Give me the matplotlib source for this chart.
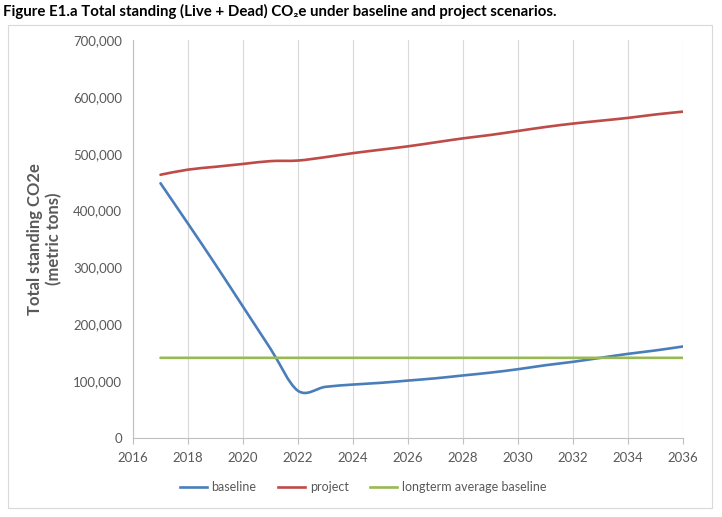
import numpy as np
import matplotlib
matplotlib.use("Agg")
import matplotlib.pyplot as plt
from matplotlib.path import Path
from matplotlib.patches import PathPatch, Rectangle
from matplotlib.lines import Line2D

plt.rcParams['font.family'] = ['Lato', 'DejaVu Sans']

years = list(range(2017, 2037))
baseline = [448000, 377000, 305000, 231000, 157000, 83000, 90000, 94000, 97000, 101000,
            105000, 110000, 115000, 121000, 128000, 134000, 141000, 148000, 154000, 161000]
project = [463000, 472000, 477000, 482000, 487000, 488000, 494000, 501000, 507000, 513000,
           520000, 527000, 533000, 540000, 547000, 553000, 558000, 563000, 569000, 574000]
longterm = [141000] * len(years)
series_names = ["baseline", "project", "longterm average baseline"]
colors = ["#4A7EBB", "#BE4B48", "#98B954"]
x_ticks = list(range(2016, 2037, 2))
y_ticks = list(range(0, 700001, 100000))


def smooth_path(xs, ys):
    xs = np.asarray(xs, float); ys = np.asarray(ys, float)
    verts = [(xs[0], ys[0])]
    codes = [Path.MOVETO]
    n = len(xs)
    t = 1.0 / 6.0
    for i in range(n - 1):
        p0 = (xs[max(i - 1, 0)], ys[max(i - 1, 0)])
        p1 = (xs[i], ys[i])
        p2 = (xs[i + 1], ys[i + 1])
        p3 = (xs[min(i + 2, n - 1)], ys[min(i + 2, n - 1)])
        c1 = (p1[0] + (p2[0] - p0[0]) * t, p1[1] + (p2[1] - p0[1]) * t)
        c2 = (p2[0] - (p3[0] - p1[0]) * t, p2[1] - (p3[1] - p1[1]) * t)
        verts += [c1, c2, p2]
        codes += [Path.CURVE4] * 3
    return Path(verts, codes)


fig = plt.figure(figsize=(7.22, 5.17), dpi=100)
fig.patch.set_facecolor("white")

# outer chart frame
fig.patches.append(Rectangle((8 / 722, 1 - 508 / 517), 704 / 722, 483 / 517,
                             transform=fig.transFigure, fill=False,
                             edgecolor="#D9D9D9", linewidth=0.8))

fig.text(3 / 722, 1 - 11 / 517,
         "Figure E1.a Total standing (Live + Dead) CO\u2082e under baseline and project scenarios.",
         fontsize=10.8, fontweight="bold", ha="left", va="center", color="black")

ax = fig.add_axes([133 / 722, 1 - 438 / 517, 550 / 722, 398 / 517])
ax.set_xlim(2016, 2036)
ax.set_ylim(0, 700000)
ax.set_xticks(x_ticks)
ax.set_yticks(y_ticks)
ax.set_yticklabels([f"{v:,}" for v in y_ticks])
ax.grid(axis="x", color="#D9D9D9", linewidth=0.8)
ax.set_axisbelow(True)
for s in ["top", "right"]:
    ax.spines[s].set_visible(False)
for s in ["left", "bottom"]:
    ax.spines[s].set_color("#BFBFBF")
    ax.spines[s].set_linewidth(0.8)
ax.tick_params(axis="x", colors="#BFBFBF", labelcolor="#595959", labelsize=9.5,
               length=4, pad=6, direction="out")
ax.tick_params(axis="y", length=0, labelcolor="#595959", labelsize=9.5, pad=8)

for ys, c in zip([baseline, project, longterm], colors):
    ax.add_patch(PathPatch(smooth_path(years, ys), facecolor="none", edgecolor=c,
                           linewidth=1.9, capstyle="round", joinstyle="round"))

ax.set_ylabel("Total standing CO2e\n(metric tons)", fontsize=12, fontweight="bold",
              color="#595959", labelpad=8, multialignment="center")

handles = [Line2D([], [], color=c, linewidth=1.9) for c in colors]
fig.legend(handles, series_names, loc="center", bbox_to_anchor=(363 / 722, 1 - 487 / 517),
           ncol=3, frameon=False, fontsize=9, labelcolor="#595959",
           handlelength=2.2, handletextpad=0.35, columnspacing=1.7)

fig.savefig("out.png", dpi=100)
